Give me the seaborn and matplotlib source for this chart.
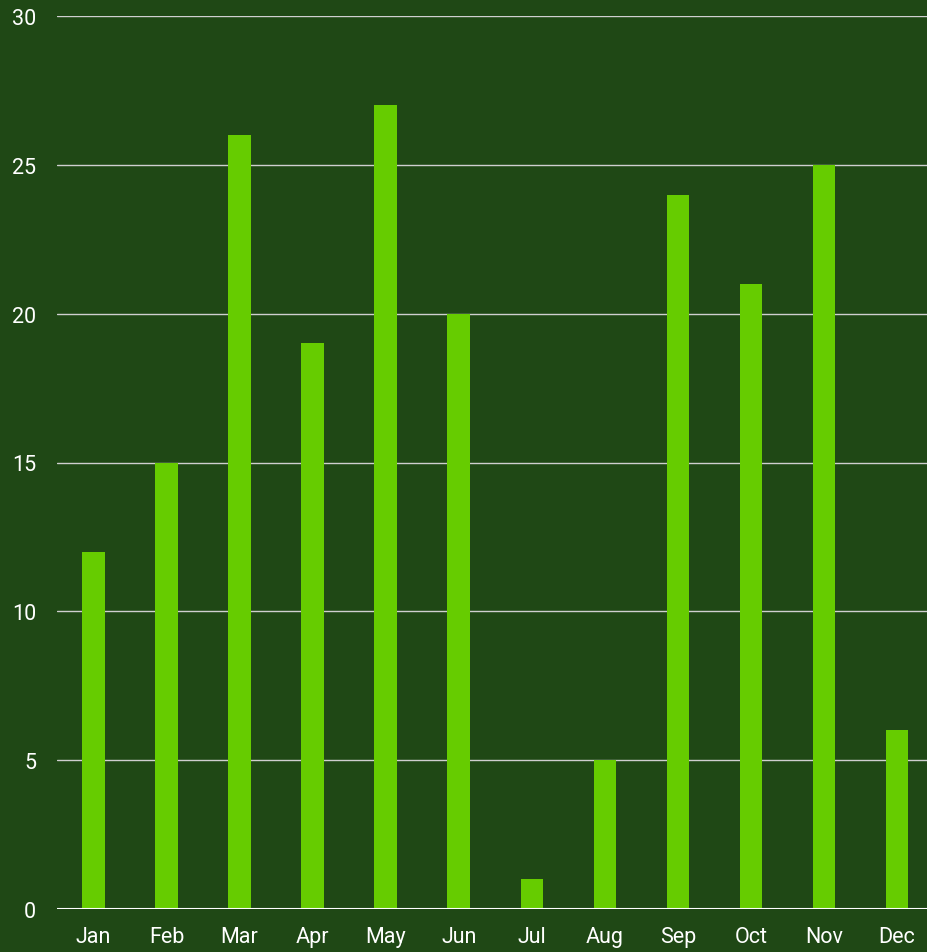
import matplotlib
matplotlib.use("Agg")
import matplotlib.pyplot as plt
import seaborn as sns
import pandas as pd

months = ["Jan", "Feb", "Mar", "Apr", "May", "Jun", "Jul", "Aug", "Sep", "Oct", "Nov", "Dec"]
values = [12, 15, 26, 19, 27, 20, 1, 5, 24, 21, 25, 6]
yticks = [0, 5, 10, 15, 20, 25, 30]

bg = "#1f4815"
bar_color = "#66cc00"

sns.set_theme(style="white")
plt.rcParams["font.family"] = ["Roboto", "DejaVu Sans"]

df = pd.DataFrame({"month": months, "value": values})

W, H = 928, 953
left, right, top, bottom = 57, 933.6, 17, 910
fig = plt.figure(figsize=(W / 100, H / 100), dpi=100, facecolor=bg)
ax = fig.add_axes([left / W, 1 - bottom / H, (right - left) / W, (bottom - top) / H])
ax.set_facecolor(bg)

sns.barplot(data=df, x="month", y="value", color=bar_color, width=0.31,
            saturation=1, ax=ax, zorder=3, linewidth=0)

ax.set_xlim(-0.5, 11.5)
ax.set_ylim(0, 30)
ax.set_yticks(yticks)
ax.set_yticklabels([str(t) for t in yticks])
for t in yticks[1:]:
    ax.axhline(t, color="#cfcfcf", lw=1, zorder=1)
ax.axhline(0, color="white", lw=1.5, zorder=4)

for s in ax.spines.values():
    s.set_visible(False)
ax.set_xlabel("")
ax.set_ylabel("")
ax.tick_params(axis="both", length=0, colors="white", labelsize=15.5)
ax.tick_params(axis="y", pad=15)
ax.tick_params(axis="x", pad=12)

fig.savefig("out.png", dpi=100, facecolor=bg)
